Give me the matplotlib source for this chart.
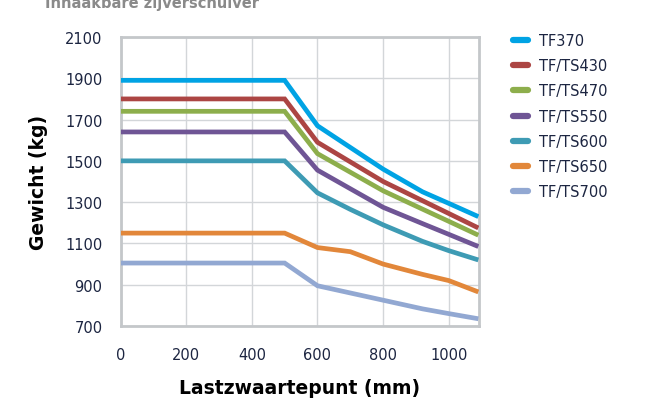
import matplotlib
matplotlib.use("Agg")
import matplotlib.pyplot as plt
from matplotlib.lines import Line2D

plt.rcParams['font.family'] = ['DejaVu Sans']

x_mm = [0, 500, 600, 700, 800, 920, 1000, 1090]
series_names = ["TF370", "TF/TS430", "TF/TS470", "TF/TS550", "TF/TS600", "TF/TS650", "TF/TS700"]
tf370 = [1890, 1890, 1670, 1565, 1460, 1350, 1294, 1230]
tfts430 = [1800, 1800, 1590, 1495, 1400, 1307, 1245, 1175]
tfts470 = [1740, 1740, 1535, 1445, 1355, 1266, 1207, 1140]
tfts550 = [1640, 1640, 1455, 1365, 1275, 1196, 1144, 1085]
tfts600 = [1500, 1500, 1345, 1265, 1190, 1110, 1065, 1020]
tfts650 = [1150, 1150, 1080, 1060, 1000, 950, 920, 865]
tfts700 = [1005, 1005, 895, 860, 825, 783, 760, 735]
values = [tf370, tfts430, tfts470, tfts550, tfts600, tfts650, tfts700]
colors = ["#00a3e4", "#ac4543", "#8dae4c", "#6f5595", "#3e9bb4", "#e2873a", "#92a8d2"]
y_ticks = [700, 900, 1100, 1300, 1500, 1700, 1900, 2100]
x_ticks = [0, 200, 400, 600, 800, 1000]

W, H = 661, 406
fig = plt.figure(figsize=(W / 100, H / 100), dpi=100)
ax = fig.add_axes([120.5 / W, 1 - 327 / H, (479 - 120.5) / W, (327 - 38) / H])

for name, vals, c in zip(series_names, values, colors):
    ax.plot(x_mm, vals, color=c, lw=3.4, solid_capstyle='butt', solid_joinstyle='miter', label=name, zorder=3)

ax.set_xlim(0, 1092)
ax.set_ylim(700, 2100)
ax.set_xticks(x_ticks)
ax.set_yticks(y_ticks)
ax.grid(True, color="#d3d6d9", lw=1.0, zorder=0)
for s in ax.spines.values():
    s.set_color("#c4c7ca")
    s.set_linewidth(2.0)
txt = "#1c2541"
ax.tick_params(length=0, labelsize=10.5, labelcolor=txt)
ax.tick_params(axis='y', pad=13)
ax.tick_params(axis='x', pad=15)

ax.set_xlabel("Lastzwaartepunt (mm)", fontsize=13.5, fontweight='bold', color='black', labelpad=12)
ax.set_ylabel("Gewicht (kg)", fontsize=13.5, fontweight='bold', color='black', labelpad=12)

fig.text(45 / W, 1 - 8 / H, "Inhaakbare zijverschuiver", fontsize=10.5, fontweight='bold',
         color="#8a8a8a", va='baseline', ha='left')

handles = [Line2D([0], [0], color=c, lw=4.5, solid_capstyle='round') for c in colors]
leg = fig.legend(handles, series_names, loc='upper left', bbox_to_anchor=(513 / W, 1 - 34 / H),
                 frameon=False, fontsize=10.5, handlelength=1.0, handletextpad=0.8,
                 labelspacing=0.7, borderaxespad=0, borderpad=0)
for t in leg.get_texts():
    t.set_color(txt)

fig.savefig("out.png", dpi=100)
